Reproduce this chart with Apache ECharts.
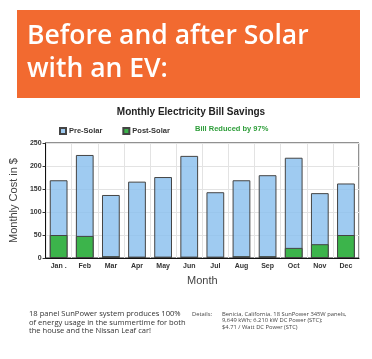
<!DOCTYPE html>
<html><head><meta charset="utf-8">
<script src="https://cdn.jsdelivr.net/npm/echarts@6/dist/echarts.min.js"></script>
<style>html,body{margin:0;padding:0;background:#fff}#c{width:372px;height:359px}</style>
</head><body><div id="c"></div>
<script>
var months = ['Jan .','Feb','Mar','Apr','May','Jun','Jul','Aug','Sep','Oct','Nov','Dec'];
var preSolar = [169, 224, 137, 166, 176, 222, 143, 169, 180, 218, 141, 162];
var postSolar = [50, 48, 4, 3, 3, 3, 3, 4, 4, 22, 30, 50];
var yTicks = [0, 50, 100, 150, 200, 250];

var chart = echarts.init(document.getElementById('c'));
chart.setOption({
  animation: false,
  backgroundColor: '#fff',
  title: {
    text: 'Monthly Electricity Bill Savings',
    left: 186, top: 102, textAlign: 'center',
    textStyle: {fontFamily: 'Liberation Sans', fontSize: 10, fontWeight: 'bold', color: '#222'}
  },
  legend: {
    left: 54, top: 122, itemWidth: 6, itemHeight: 6, itemGap: 20,
    icon: 'rect',
    textStyle: {fontFamily: 'Liberation Sans', fontSize: 7.5, fontWeight: 'bold', color: '#333', padding: [0,0,0,-2]},
    data: ['Pre-Solar', 'Post-Solar']
  },
  grid: {left: 42, right: 13, top: 143, bottom: 101, show: true, borderColor: '#222', borderWidth: 1},
  xAxis: {
    type: 'category', data: months,
    name: 'Month', nameLocation: 'middle', nameGap: 17,
    nameTextStyle: {fontFamily: 'Liberation Sans', fontSize: 11, color: '#444'},
    axisLine: {lineStyle: {color: '#111'}},
    axisTick: {alignWithLabel: true, length: 3, lineStyle: {color: '#333'}},
    axisLabel: {fontFamily: 'Liberation Sans', fontSize: 7, fontWeight: 'bold', color: '#333', margin: 5},
    splitLine: {show: true, lineStyle: {color: '#e3e3e3'}}
  },
  yAxis: {
    type: 'value', min: yTicks[0], max: yTicks[yTicks.length-1], interval: 50,
    name: 'Monthly Cost in $', nameLocation: 'middle', nameGap: 17,
    nameTextStyle: {fontFamily: 'Liberation Sans', fontSize: 11, color: '#444'},
    axisLine: {show: true, lineStyle: {color: '#111'}},
    axisTick: {show: true, length: 3, lineStyle: {color: '#333'}},
    axisLabel: {fontFamily: 'Liberation Sans', fontSize: 7, fontWeight: 'bold', color: '#333', margin: 4},
    splitLine: {show: true, lineStyle: {color: '#e3e3e3'}}
  },
  series: [
    {name: 'Pre-Solar', type: 'bar', data: preSolar, barWidth: '68%', barGap: '-100%',
     itemStyle: {color: 'rgba(135,190,238,0.8)', borderColor: '#444', borderWidth: 1}},
    {name: 'Post-Solar', type: 'bar', data: postSolar, barWidth: '68%',
     itemStyle: {color: '#3cb44b', borderColor: '#444', borderWidth: 1}}
  ],
  graphic: [
    {type: 'rect', shape: {x: 17, y: 10, width: 343, height: 88}, style: {fill: '#f26a30'}},
    {type: 'text', left: 27, top: 20, style: {text: 'Before and after Solar\nwith an EV:', fill: '#fff',
      font: '600 26.5px "Open Sans"', lineHeight: 33}},
    {type: 'text', left: 195, top: 125, style: {text: 'Bill Reduced by 97%', fill: '#2e9e3a',
      font: 'bold 7.5px "Liberation Sans"'}},
    {type: 'text', left: 29, top: 310, style: {text: '18 panel SunPower system produces 100%\nof energy usage in the summertime for both\nthe house and the Nissan Leaf car!', fill: '#333',
      font: '7.6px "Open Sans"', lineHeight: 8.5}},
    {type: 'text', left: 192, top: 311, style: {text: 'Details:', fill: '#444', font: '5.8px "Open Sans"'}},
    {type: 'text', left: 222, top: 311, style: {text: 'Benicia, California. 18 SunPower 345W panels,\n9,649 kWh; 6.210 kW DC Power (STC);\n$4.71 / Watt DC Power (STC)', fill: '#444',
      font: '5.8px "Open Sans"', lineHeight: 6.5}}
  ]
});
</script></body></html>
